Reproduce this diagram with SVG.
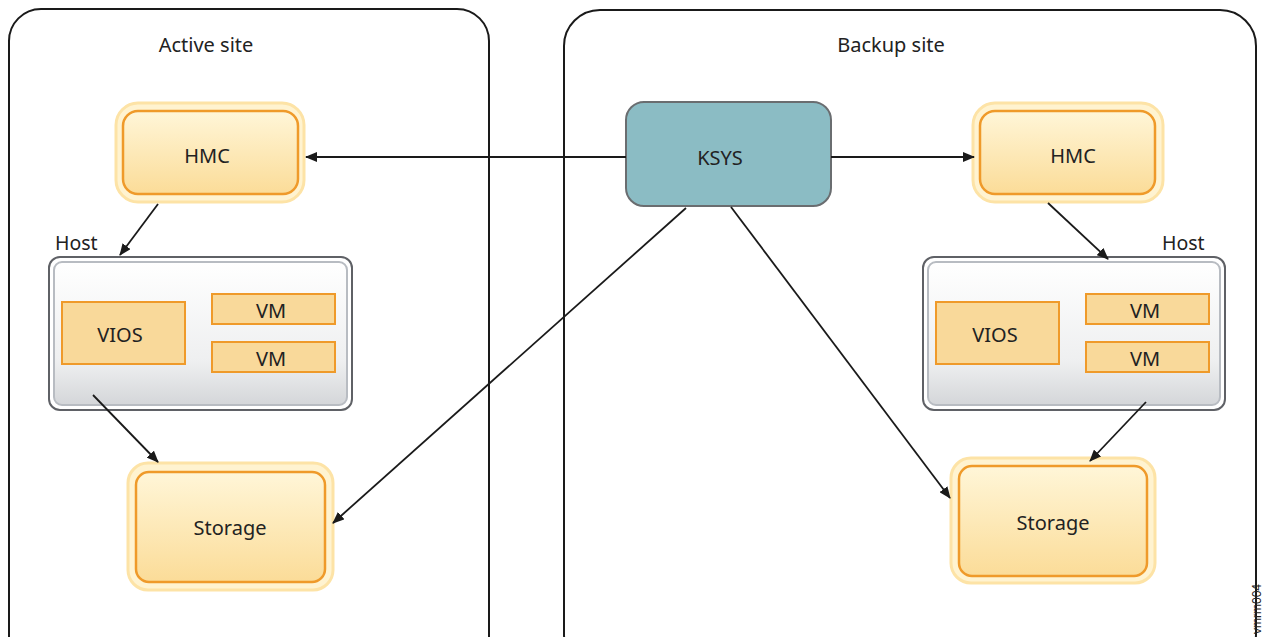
<svg xmlns="http://www.w3.org/2000/svg" width="1264" height="637" viewBox="0 0 1264 637">
<defs>
<linearGradient id="gOrange" x1="0" y1="0" x2="0" y2="1">
<stop offset="0" stop-color="#fff6d8"/>
<stop offset="1" stop-color="#fbdc98"/>
</linearGradient>
<linearGradient id="gHost" x1="0" y1="0" x2="0" y2="1">
<stop offset="0" stop-color="#ffffff"/>
<stop offset="0.7" stop-color="#eeeff0"/>
<stop offset="1" stop-color="#d4d6d9"/>
</linearGradient>
<marker id="arr" markerWidth="12" markerHeight="10" refX="11" refY="5" orient="auto" markerUnits="userSpaceOnUse">
<path d="M0,0 L12,5 L0,10 Z" fill="#1a1a1a"/>
</marker>
</defs>
<style>
.site{fill:#fff;stroke:#1a1a1a;stroke-width:2}
.glow{fill:#fff3d0;stroke:#fde3a6;stroke-width:3}
.inner{fill:url(#gOrange);stroke:#ef9a2a;stroke-width:2.5}
.hostO{fill:#fff;stroke:#5f6166;stroke-width:2}
.hostI{fill:url(#gHost);stroke:#b8bcc2;stroke-width:2}
.box{fill:#f9d99a;stroke:#ef9a2a;stroke-width:2}
.ksys{fill:#8bbcc4;stroke:#6a6d70;stroke-width:2}
.t{font-family:"Noto Sans","Liberation Sans",sans-serif;font-size:20px;fill:#222;text-anchor:middle;dominant-baseline:central}
.lbl{font-family:"Noto Sans","Liberation Sans",sans-serif;font-size:19.5px;fill:#222}
.c{stroke:#1a1a1a;stroke-width:1.8;fill:none;marker-end:url(#arr)}
</style>

<g id="active-site">
<rect class="site" x="9" y="9" width="480" height="660" rx="32"/>
<text class="t" x="206" y="44">Active site</text>
</g>
<g id="backup-site">
<rect class="site" x="564" y="10" width="692" height="660" rx="36"/>
<text class="t" x="891" y="44">Backup site</text>
</g>

<g id="hmc-active">
<rect class="glow" x="116" y="103" width="188" height="99" rx="22"/>
<rect class="inner" x="123" y="111" width="175" height="83" rx="15"/>
<text class="t" x="207" y="155">HMC</text>
</g>

<g id="host-active">
<text class="lbl" x="55" y="250">Host</text>
<rect class="hostO" x="49" y="257" width="303" height="153" rx="11"/>
<rect class="hostI" x="54" y="262" width="293" height="143" rx="8"/>
</g>
<g id="vios-active">
<rect class="box" x="62" y="302" width="123" height="62"/>
<text class="t" x="120" y="334">VIOS</text>
</g>
<g id="vm1-active">
<rect class="box" x="212" y="294" width="123" height="30"/>
<text class="t" x="271" y="310">VM</text>
</g>
<g id="vm2-active">
<rect class="box" x="212" y="342" width="123" height="30"/>
<text class="t" x="271" y="358">VM</text>
</g>

<g id="storage-active">
<rect class="glow" x="128" y="463" width="205" height="127" rx="20"/>
<rect class="inner" x="136" y="472" width="189" height="110" rx="13"/>
<text class="t" x="230" y="527">Storage</text>
</g>

<g id="ksys">
<rect class="ksys" x="626" y="102" width="205" height="104" rx="18"/>
<text class="t" x="720" y="157">KSYS</text>
</g>

<g id="hmc-backup">
<rect class="glow" x="973" y="103" width="190" height="99" rx="22"/>
<rect class="inner" x="980" y="111" width="175" height="83" rx="15"/>
<text class="t" x="1073" y="155">HMC</text>
</g>

<g id="host-backup">
<text class="lbl" x="1162" y="250">Host</text>
<rect class="hostO" x="923" y="257" width="302" height="153" rx="11"/>
<rect class="hostI" x="928" y="262" width="292" height="143" rx="8"/>
</g>
<g id="vios-backup">
<rect class="box" x="936" y="302" width="123" height="62"/>
<text class="t" x="995" y="334">VIOS</text>
</g>
<g id="vm1-backup">
<rect class="box" x="1086" y="294" width="123" height="30"/>
<text class="t" x="1145" y="310">VM</text>
</g>
<g id="vm2-backup">
<rect class="box" x="1086" y="342" width="123" height="30"/>
<text class="t" x="1145" y="358">VM</text>
</g>

<g id="storage-backup">
<rect class="glow" x="951" y="458" width="204" height="125" rx="20"/>
<rect class="inner" x="959" y="466" width="188" height="110" rx="13"/>
<text class="t" x="1053" y="522">Storage</text>
</g>

<g id="connectors">
<line class="c" x1="626" y1="157" x2="306" y2="157"/>
<line class="c" x1="831" y1="157" x2="974" y2="157"/>
<line class="c" x1="158" y1="204" x2="120" y2="255"/>
<line class="c" x1="93" y1="395" x2="158" y2="462"/>
<line class="c" x1="686" y1="208" x2="333" y2="523"/>
<line class="c" x1="731" y1="207" x2="950" y2="498"/>
<line class="c" x1="1048" y1="203" x2="1108" y2="259"/>
<line class="c" x1="1146" y1="402" x2="1090" y2="461"/>
</g>

<text font-family="Liberation Sans, sans-serif" font-size="12" fill="#222" transform="translate(1261,634) rotate(-90)" x="0" y="0">vmrm004</text>
</svg>
